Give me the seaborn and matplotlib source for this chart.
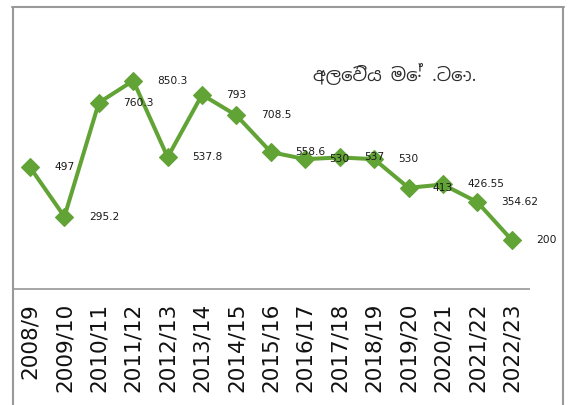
import matplotlib
matplotlib.use("Agg")
import matplotlib.pyplot as plt
from matplotlib.lines import Line2D
import seaborn as sns
import pandas as pd

seasons = ["2008/9", "2009/10", "2010/11", "2011/12", "2012/13", "2013/14",
           "2014/15", "2015/16", "2016/17", "2017/18", "2018/19", "2019/20",
           "2020/21", "2021/22", "2022/23"]
sales = [497, 295.2, 760.3, 850.3, 537.8, 793, 708.5, 558.6, 530, 537,
         530, 413, 426.55, 354.62, 200]
title_text = "අලෙවිය මේ .ටො."

sns.set_theme(style="white")
plt.rcParams['font.family'] = ['DejaVu Sans']

W, H = 573, 405
fig = plt.figure(figsize=(W / 100, H / 100), dpi=100)
ax = fig.add_axes([12.8 / W, 1 - 289 / H, (529 - 12.8) / W, (289 - 44) / H])

df = pd.DataFrame({"season": seasons, "sales": sales})
green = "#62a336"
sns.lineplot(data=df, x="season", y="sales", sort=False, ax=ax, color=green,
             linewidth=2.9, marker="D", markersize=9, markeredgewidth=0.8,
             markeredgecolor=green, markerfacecolor=green)

for i, v in enumerate(sales):
    ax.annotate(f"{v:g}", xy=(i, v), xytext=(17.5, 0), textcoords="offset points",
                ha="left", va="center", fontsize=7.7, color="#1a1a1a")

ax.set_xlim(-0.5, len(seasons) - 0.5)
ax.set_ylim(0, 1000)
ax.set_xlabel("")
ax.set_ylabel("")
ax.set_yticks([])
ax.set_xticks(range(len(seasons)))
ax.set_xticklabels(seasons, rotation=90, fontsize=15.5, color="#111111", va="top")
ax.tick_params(axis="x", length=0, pad=10)
for s in ["left", "right", "top"]:
    ax.spines[s].set_visible(False)
ax.spines["bottom"].set_color("#a6a6a6")
ax.spines["bottom"].set_linewidth(1.4)
ax.patch.set_alpha(0)

fig.text(395 / W, 1 - 74 / H, title_text, ha="center", va="center",
         fontsize=13, fontweight="bold", color="#2e2e2e",
         family=["Noto Sans Sinhala", "DejaVu Sans"])

border = "#999999"
fig.add_artist(Line2D([12.5 / W, 12.5 / W], [0, 1 - 7 / H], color=border, lw=1.5,
                      transform=fig.transFigure))
fig.add_artist(Line2D([12 / W, 563.5 / W], [1 - 7 / H, 1 - 7 / H], color=border, lw=1.5,
                      transform=fig.transFigure))
fig.add_artist(Line2D([563 / W, 563 / W], [0, 1 - 7 / H], color=border, lw=1.5,
                      transform=fig.transFigure))

fig.savefig("out.png", dpi=100)
